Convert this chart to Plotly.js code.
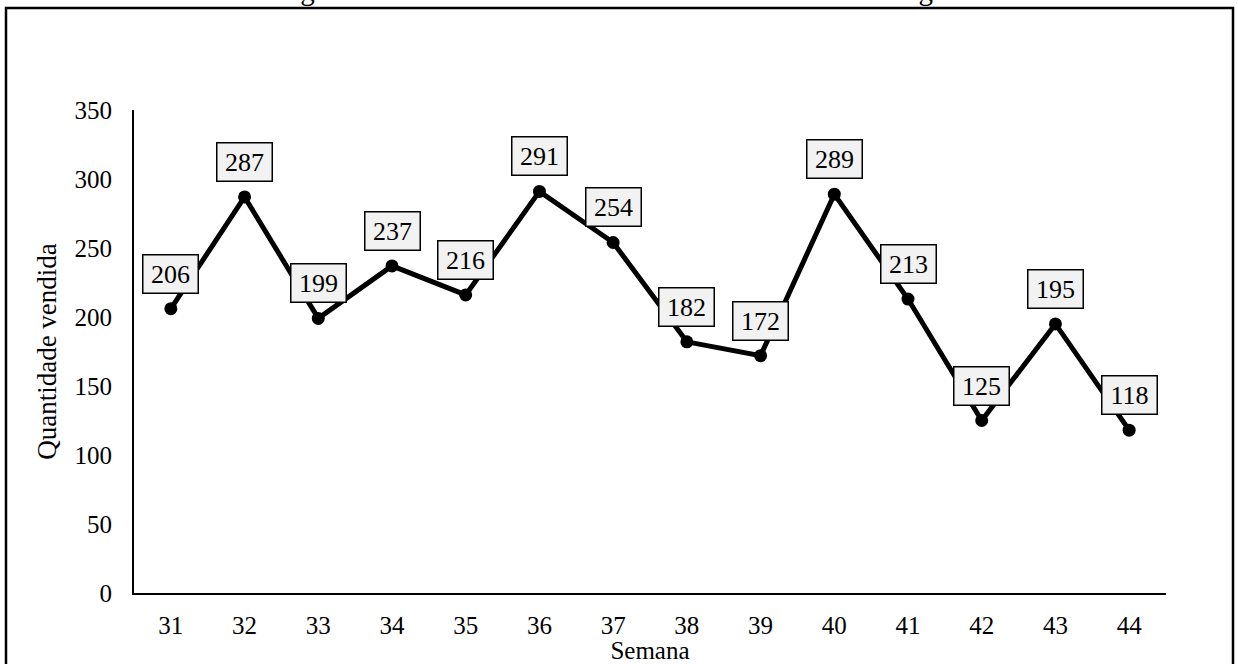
<!DOCTYPE html>
<html>
<head>
<meta charset="utf-8">
<script src="https://cdn.plot.ly/plotly-3.0.1.min.js"></script>
<style>
html,body{margin:0;padding:0;background:#fff;}
#chart{width:1238px;height:664px;}
</style>
</head>
<body>
<div id="chart"></div>
<script>
const semanas = ["31","32","33","34","35","36","37","38","39","40","41","42","43","44"];
const vendas = [206, 287, 199, 237, 216, 291, 254, 182, 172, 289, 213, 125, 195, 118];
const yTicks = [0, 50, 100, 150, 200, 250, 300, 350];
const titulo = "Figura 6 – Gráfico de vendas semanais da farinha de trigo";

const W = 1238, H = 664;
const M = {l: 134, r: 72, t: 110, b: 71};
const pw = W - M.l - M.r, ph = H - M.t - M.b;
const px = x => (x - M.l) / pw;
const py = y => 1 - (y - M.t) / ph;

const font = "Liberation Serif, Times New Roman, serif";

const annotations = vendas.map((v, i) => ({
  x: i, y: v, xref: "x", yref: "y",
  text: String(v), showarrow: false,
  yshift: 35, width: 52, height: 35,
  bgcolor: "#f2f2f2", bordercolor: "#000", borderwidth: 1.5, borderpad: 1,
  font: {family: font, size: 26, color: "#000"}
}));
annotations.push({
  xref: "paper", yref: "paper", x: px(612), y: 1, yanchor: "bottom", yshift: 102,
  text: titulo, showarrow: false, font: {family: font, size: 29, color: "#000"}
});

const trace = {
  x: semanas, y: vendas, type: "scatter", mode: "lines+markers",
  line: {color: "#000", width: 5},
  marker: {color: "#000", size: 13},
  hoverinfo: "skip"
};

const layout = {
  width: W, height: H,
  margin: M,
  paper_bgcolor: "#fff", plot_bgcolor: "#fff",
  showlegend: false,
  font: {family: font, color: "#000"},
  xaxis: {
    type: "category", range: [-0.5, 13.5],
    showline: true, linecolor: "#000", linewidth: 2,
    showgrid: false, zeroline: false, ticks: "",
    tickfont: {family: font, size: 25, color: "#000"},
    ticklabelstandoff: 9,
    title: {text: "Semana", font: {family: font, size: 25, color: "#000"}, standoff: 0}
  },
  yaxis: {
    range: [0, 350], tickvals: yTicks,
    showline: true, linecolor: "#000", linewidth: 2,
    showgrid: false, zeroline: false, ticks: "",
    tickfont: {family: font, size: 25, color: "#000"},
    ticklabelstandoff: 15,
    title: {text: "Quantidade vendida", font: {family: font, size: 27, color: "#000"}, standoff: 10}
  },
  annotations: annotations,
  shapes: [{
    type: "rect", xref: "paper", yref: "paper",
    x0: px(6), x1: px(1233), y0: py(8), y1: py(670),
    line: {color: "#000", width: 2.5}, fillcolor: "rgba(0,0,0,0)", layer: "above"
  }]
};

Plotly.newPlot("chart", [trace], layout, {displayModeBar: false, staticPlot: true});
</script>
</body>
</html>
